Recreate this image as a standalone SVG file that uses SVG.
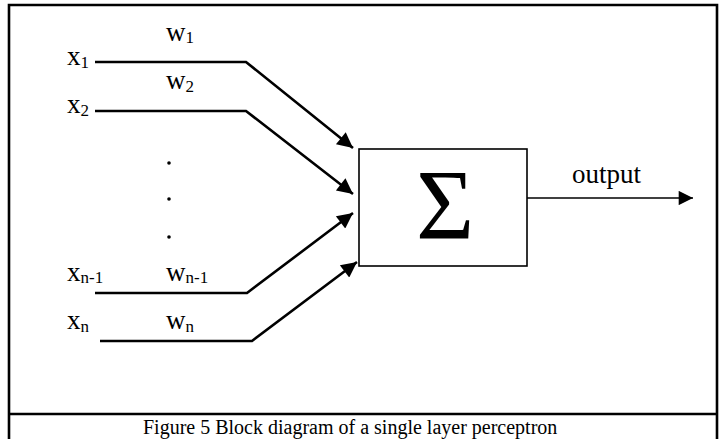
<svg xmlns="http://www.w3.org/2000/svg" width="723" height="439" viewBox="0 0 723 439">
<style>
  .lbl { font-family: "Liberation Serif", "Times New Roman", serif; font-size: 27px; fill: #000; }
  .sub { font-size: 17px; }
  .in { fill: none; stroke: #000; stroke-width: 2.6; stroke-linejoin: miter; }
  .frame { fill: none; stroke: #000; stroke-width: 2.6; }
</style>
<defs>
  <marker id="ah" viewBox="0 0 10 10" refX="10" refY="5" markerWidth="7" markerHeight="6" orient="auto" markerUnits="strokeWidth">
    <path d="M0,0 L10,5 L0,10 z" fill="#000"/>
  </marker>
  <marker id="ah2" viewBox="0 0 10 10" refX="10" refY="5" markerWidth="15" markerHeight="11" orient="auto" markerUnits="strokeWidth">
    <path d="M0,0 L10,5 L0,10 z" fill="#000"/>
  </marker>
</defs>
<rect width="723" height="439" fill="#fff"/>
<g id="frame">
  <path class="frame" d="M9,439 V5 H717 V439"/>
  <line class="frame" x1="9" y1="414" x2="717" y2="414"/>
</g>
<g id="connectors">
  <path class="in" d="M95,62 H246 L353,148" marker-end="url(#ah)"/>
  <path class="in" d="M95,111 H246 L353,194" marker-end="url(#ah)"/>
  <path class="in" d="M95,293 H247 L353,213" marker-end="url(#ah)"/>
  <path class="in" d="M100,341 H252 L357,262" marker-end="url(#ah)"/>
  <line x1="527" y1="198" x2="693" y2="198" stroke="#000" stroke-width="1.3" marker-end="url(#ah2)"/>
</g>
<g id="inputs">
  <text class="lbl" x="67" y="65">x<tspan class="sub" dy="3">1</tspan></text>
  <text class="lbl" x="67" y="113">x<tspan class="sub" dy="3">2</tspan></text>
  <text class="lbl" x="67" y="281">x<tspan class="sub" dy="2">n-1</tspan></text>
  <text class="lbl" x="67" y="329">x<tspan class="sub" dy="3">n</tspan></text>
</g>
<g id="weights">
  <text class="lbl" x="166" y="41">w<tspan class="sub" dy="2">1</tspan></text>
  <text class="lbl" x="166" y="89">w<tspan class="sub" dy="3">2</tspan></text>
  <text class="lbl" x="166" y="281">w<tspan class="sub" dy="2">n-1</tspan></text>
  <text class="lbl" x="166" y="329">w<tspan class="sub" dy="3">n</tspan></text>
</g>
<g id="dots" fill="#000">
  <circle cx="169" cy="163" r="1.8"/>
  <circle cx="169" cy="199" r="1.8"/>
  <circle cx="169" cy="237" r="1.8"/>
</g>
<g id="sum">
  <rect x="359" y="149" width="168" height="117" fill="#fff" stroke="#000" stroke-width="1.6"/>
  <text x="445" y="238" text-anchor="middle" font-family="Liberation Serif, serif" font-size="100">Σ</text>
</g>
<g id="output">
  <text class="lbl" x="572" y="183">output</text>
</g>
<g id="caption">
  <text x="143" y="434" font-family="Liberation Serif, serif" font-size="20">Figure 5 Block diagram of a single layer perceptron</text>
</g>
</svg>
